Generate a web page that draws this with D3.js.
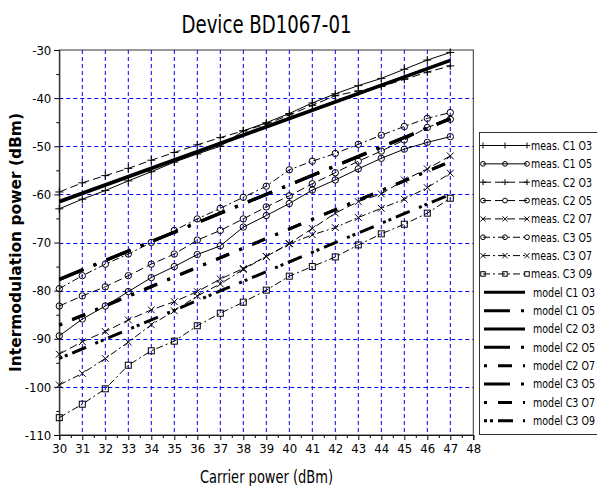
<!DOCTYPE html>
<html>
<head>
<meta charset="utf-8">
<script src="https://cdn.jsdelivr.net/npm/d3@7"></script>
<style>
  body { margin: 0; background: #fff; }
  text { font-family: "Liberation Sans Narrow", "DejaVu Sans Condensed", sans-serif; fill: #000; }
</style>
</head>
<body>
<div id="plot"></div>
<script>
var w = 597;
var h = 486;

// carrier power (dBm) of the measured points
var power = [30, 31, 32, 33, 34, 35, 36, 37, 38, 39, 40, 41, 42, 43, 44, 45, 46, 47];

// measured intermodulation power (dBm)
var measC1O3 = [-63.0, -61.0, -59.2, -57.2, -55.3, -53.3, -51.6, -50.0, -46.8, -45.1, -43.2, -41.0, -39.1, -37.4, -35.9, -34.0, -32.1, -30.5];
var measC1O5 = [-89.4, -85.9, -83.2, -80.2, -77.3, -75.0, -72.5, -70.7, -66.8, -64.4, -61.9, -59.1, -57.0, -54.7, -52.5, -50.6, -49.2, -48.0];
var measC2O3 = [-59.5, -57.6, -56.1, -54.6, -52.9, -51.3, -49.7, -48.2, -46.8, -45.4, -43.5, -41.5, -39.5, -38.5, -37.6, -36.1, -34.6, -33.3];
var measC2O5 = [-83.2, -81.1, -79.2, -76.9, -74.5, -72.4, -69.5, -67.5, -65.1, -62.6, -60.3, -57.8, -55.5, -53.1, -51.0, -48.7, -46.1, -44.4];
var measC2O7 = [-93.2, -90.6, -88.5, -86.1, -84.0, -82.3, -80.2, -77.6, -75.4, -72.9, -70.2, -67.1, -63.9, -61.5, -59.9, -57.0, -54.7, -52.0];
var measC3O5 = [-79.6, -76.9, -74.5, -72.4, -70.0, -67.5, -65.1, -62.9, -60.6, -58.3, -54.9, -53.1, -51.5, -49.6, -47.7, -45.9, -44.2, -43.0];
var measC3O7 = [-99.6, -97.2, -94.1, -90.7, -87.1, -84.2, -81.1, -78.6, -75.6, -72.9, -70.3, -68.4, -66.9, -64.8, -62.9, -61.0, -58.6, -55.6];
var measC3O9 = [-106.4, -103.6, -100.4, -95.5, -92.5, -90.5, -87.3, -84.7, -82.4, -79.9, -77.0, -75.0, -73.0, -70.5, -68.2, -66.2, -63.9, -60.8];

// model lines (end points)
var modelPower = [30, 47];
var modelC1O3 = [-61.6, -32.2];
var modelC1O5 = [-77.7, -44.3];
var modelC2O3 = [-61.4, -32.1];
var modelC2O5 = [-77.6, -44.3];
var modelC2O7 = [-87.2, -53.2];
var modelC3O5 = [-77.7, -44.2];
var modelC3O7 = [-87.1, -53.2];
var modelC3O9 = [-94.1, -60.0];

var xTicks = [30, 31, 32, 33, 34, 35, 36, 37, 38, 39, 40, 41, 42, 43, 44, 45, 46, 47, 48];
var yTicks = [-110, -100, -90, -80, -70, -60, -50, -40, -30];

var meas = [
  { name: "meas. C1 O3", v: measC1O3, marker: "plus", dash: null },
  { name: "meas. C1 O5", v: measC1O5, marker: "circle", dash: null },
  { name: "meas. C2 O3", v: measC2O3, marker: "plus", dash: "8,4" },
  { name: "meas. C2 O5", v: measC2O5, marker: "circle", dash: "8,4" },
  { name: "meas. C2 O7", v: measC2O7, marker: "cross", dash: "8,4" },
  { name: "meas. C3 O5", v: measC3O5, marker: "circle", dash: "7,3,2,3" },
  { name: "meas. C3 O7", v: measC3O7, marker: "cross", dash: "7,3,2,3" },
  { name: "meas. C3 O9", v: measC3O9, marker: "square", dash: "7,3,2,3" }
];

var models = [
  { name: "model C1 O3", v: modelC1O3, dash: null },
  { name: "model C1 O5", v: modelC1O5, dash: "26,11,3,11" },
  { name: "model C2 O3", v: modelC2O3, dash: null },
  { name: "model C2 O5", v: modelC2O5, dash: "26,11,3,11" },
  { name: "model C2 O7", v: modelC2O7, dash: "3,11,14,11" },
  { name: "model C3 O5", v: modelC3O5, dash: "26,11,3,11" },
  { name: "model C3 O7", v: modelC3O7, dash: "3,11,14,11" },
  { name: "model C3 O9", v: modelC3O9, dash: "3,3,3,5,15,10" }
];

var pLeft = 59.3, pRight = 473.3, pTop = 50, pBottom = 435;

var xScale = d3.scaleLinear().domain([30, 48]).range([pLeft, pRight]);
var yScale = d3.scaleLinear().domain([-110, -30]).range([pBottom, pTop]);

var svg = d3.select("#plot").append("svg").attr("width", w).attr("height", h);

// grid
var grid = svg.append("g").attr("stroke", "#0000ff").attr("stroke-width", 1).attr("stroke-dasharray", "4,3");
grid.selectAll("line.v")
  .data(xTicks.slice(1, -1))
  .enter().append("line")
  .attr("x1", (d) => xScale(d)).attr("x2", (d) => xScale(d))
  .attr("y1", pTop).attr("y2", pBottom);
grid.selectAll("line.h")
  .data(yTicks.slice(1, -1))
  .enter().append("line")
  .attr("x1", pLeft).attr("x2", pRight)
  .attr("y1", (d) => Math.round(yScale(d)) + 0.5).attr("y2", (d) => Math.round(yScale(d)) + 0.5);

// axes
var xAxis = d3.axisBottom(xScale).tickValues(xTicks).tickSize(5).tickPadding(4).tickFormat((d) => String(d));
var xMinor = d3.axisBottom(xScale).tickValues(xTicks.slice(0, -1).map((d) => d + 0.5)).tickSize(3).tickFormat("");
var yAxis = d3.axisLeft(yScale).tickValues(yTicks).tickSize(5).tickPadding(3).tickFormat((d) => String(d));
var yMinor = d3.axisLeft(yScale).tickValues(yTicks.slice(0, -1).map((d) => d + 5)).tickSize(3).tickFormat("");

var gx = svg.append("g").attr("transform", "translate(0," + pBottom + ")").call(xAxis);
svg.append("g").attr("transform", "translate(0," + pBottom + ")").call(xMinor).select(".domain").remove();
var gy = svg.append("g").attr("transform", "translate(" + pLeft + ",0)").call(yAxis);
svg.append("g").attr("transform", "translate(" + pLeft + ",0)").call(yMinor).select(".domain").remove();
gx.selectAll("text").attr("font-size", "13px").attr("font-family", null);
gy.selectAll("text").attr("font-size", "13px").attr("font-family", null);
svg.selectAll(".tick text").style("font-family", "'Liberation Sans Narrow','DejaVu Sans Condensed',sans-serif");

// frame
svg.append("rect")
  .attr("x", pLeft).attr("y", pTop)
  .attr("width", pRight - pLeft).attr("height", pBottom - pTop)
  .attr("fill", "none").attr("stroke", "#333");

// markers
function marker(g, type, x, y, s) {
  if (type === "plus") {
    g.append("path").attr("d", "M" + (x - s) + "," + y + "H" + (x + s) + "M" + x + "," + (y - s) + "V" + (y + s))
      .attr("stroke", "#000").attr("fill", "none");
  } else if (type === "circle") {
    g.append("circle").attr("cx", x).attr("cy", y).attr("r", s * 0.8)
      .attr("stroke", "#000").attr("fill", "none");
  } else if (type === "cross") {
    var c = s * 0.85;
    g.append("path").attr("d", "M" + (x - c) + "," + (y - c) + "L" + (x + c) + "," + (y + c) + "M" + (x - c) + "," + (y + c) + "L" + (x + c) + "," + (y - c))
      .attr("stroke", "#000").attr("fill", "none");
  } else if (type === "square") {
    var q = s * 0.75;
    g.append("rect").attr("x", x - q).attr("y", y - q).attr("width", 2 * q).attr("height", 2 * q)
      .attr("stroke", "#000").attr("fill", "none");
  }
}

var line = d3.line().x((d) => xScale(d[0])).y((d) => yScale(d[1]));

// measured series
meas.forEach(function (s) {
  var pts = power.map((p, i) => [p, s.v[i]]);
  var g = svg.append("g");
  g.append("path").datum(pts)
    .attr("d", line)
    .attr("fill", "none").attr("stroke", "#000").attr("stroke-width", 1)
    .attr("stroke-dasharray", s.dash);
  pts.forEach((d) => marker(g, s.marker, xScale(d[0]), yScale(d[1]), 4));
});

// model series
models.forEach(function (s) {
  var pts = modelPower.map((p, i) => [p, s.v[i]]);
  svg.append("path").datum(pts)
    .attr("d", line)
    .attr("fill", "none").attr("stroke", "#000").attr("stroke-width", 3)
    .attr("stroke-dasharray", s.dash);
});

// legend
var lg = svg.append("g");
lg.append("rect").attr("x", 479.5).attr("y", 132.5).attr("width", 130).attr("height", 302)
  .attr("fill", "#fff").attr("stroke", "#333");
var rowY = (i) => 145.5 + i * 18.35;
meas.forEach(function (s, i) {
  var y = rowY(i);
  lg.append("line").attr("x1", 483).attr("x2", 527).attr("y1", y).attr("y2", y)
    .attr("stroke", "#000").attr("stroke-dasharray", s.dash);
  [483, 505, 527].forEach((x) => marker(lg, s.marker, x, y, 3));
  lg.append("text").attr("x", 531).attr("y", y).attr("dy", "0.35em")
    .attr("font-size", "12.5px").attr("textLength", 61).attr("lengthAdjust", "spacingAndGlyphs").text(s.name);
});
models.forEach(function (s, i) {
  var y = rowY(i + 8);
  lg.append("line").attr("x1", 484).attr("x2", 525).attr("y1", y).attr("y2", y)
    .attr("stroke", "#000").attr("stroke-width", 3).attr("stroke-dasharray", s.dash);
  lg.append("text").attr("x", 533).attr("y", y).attr("dy", "0.35em")
    .attr("font-size", "12.5px").attr("textLength", 62).attr("lengthAdjust", "spacingAndGlyphs").text(s.name);
});

// titles
svg.append("text").attr("x", 266.5).attr("y", 33).attr("text-anchor", "middle")
  .attr("font-size", "24px").attr("textLength", 170).attr("lengthAdjust", "spacingAndGlyphs")
  .text("Device BD1067-01");
svg.append("text").attr("x", 266.5).attr("y", 483).attr("text-anchor", "middle")
  .attr("font-size", "17px").attr("textLength", 133).attr("lengthAdjust", "spacingAndGlyphs")
  .text("Carrier power (dBm)");
svg.append("text")
  .attr("transform", "translate(21,242.5) rotate(-90)")
  .attr("text-anchor", "middle")
  .style("font-family", "'DejaVu Sans', Verdana, sans-serif")
  .attr("font-weight", "bold")
  .attr("font-size", "15px")
  .attr("textLength", 259).attr("lengthAdjust", "spacingAndGlyphs")
  .text("Intermodulation power (dBm)");
</script>
</body>
</html>
